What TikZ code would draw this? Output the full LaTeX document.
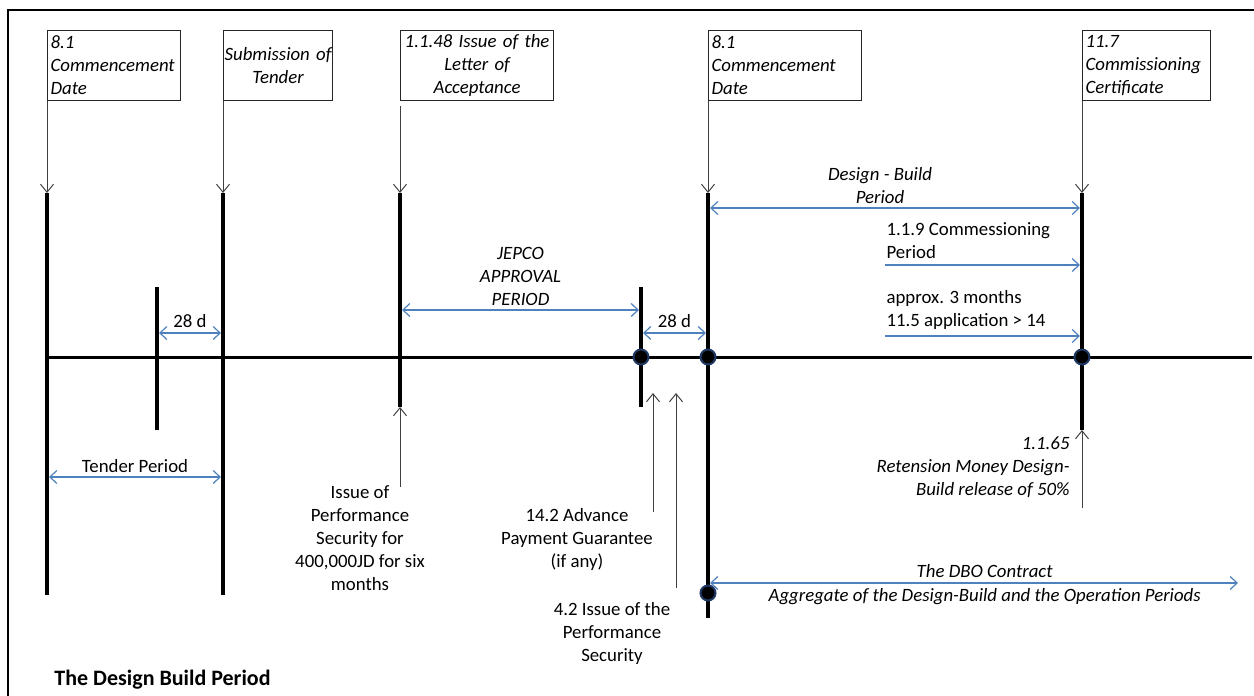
\documentclass[tikz,border=0pt]{standalone}
\usepackage{fontspec}
\setmainfont{Carlito}
\usetikzlibrary{arrows.meta,positioning}

\definecolor{spanblue}{RGB}{79,129,189}
\definecolor{dotrim}{RGB}{31,56,100}

\tikzset{
  datebox/.style={draw=black!85, line width=1.2pt, anchor=north west, minimum height=70pt, inner xsep=3pt, inner ysep=2pt, font=\itshape},
  bar/.style={line width=4pt},
  span/.style={spanblue, text=black, line width=1.2pt, shorten <=2pt, shorten >=2pt, {Straight Barb[length=7pt,width=13pt]}-{Straight Barb[length=7pt,width=13pt]}},
  onespan/.style={spanblue, text=black, line width=1.2pt, shorten >=2pt, -{Straight Barb[length=7pt,width=13pt]}},
  pointer/.style={black!75, text=black, line width=1pt, -{Straight Barb[length=8pt,width=13pt]}},
  dot/.style={circle, fill=black, draw=dotrim, line width=2pt, minimum size=15pt, inner sep=0pt},
}

\begin{document}
\begin{tikzpicture}[x=1pt,y=-1pt]
\fontsize{18.8}{23}\selectfont
\useasboundingbox (0,0) rectangle (1254,696);
\draw[line width=2pt] (8,696) -- (8,10) -- (1254,10);

% date boxes
\node[datebox, text width=127pt, align=left] (cd1) at (47,30) {8.1\\Commencement\\Date};
\node[datebox, text width=109pt, inner xsep=0pt, align=center] (sub) at (223,30) {Submission of\\Tender};
\node[datebox, text width=147pt, align=center] (loa) at (400,30) {1.1.48 Issue of the\\Letter of\\Acceptance};
\node[datebox, text width=147pt, align=left] (cd2) at (708,30) {8.1\\Commencement\\Date};
\node[datebox, text width=122pt, align=left] (cert) at (1082,30) {11.7\\Commissioning\\Certificate};

% time line and bars
\coordinate (axR) at (1252,357);
\foreach \n/\x/\t/\b in {a/47/193/595, b/157/287/430, c/223/193/595, d/400/193/407, e/641/287/407, f/708/193/618, g/1082/193/430}{
  \coordinate (\n1) at (\x,\t);
  \coordinate (\n2) at (\x,\b);
  \draw[bar] (\n1) -- (\n2);
}
\draw[line width=3pt] (a1 |- axR) -- (axR);

\draw[pointer] (cd1.south west) -- (a1);
\draw[pointer] (sub.south west) -- (c1);
\draw[pointer, shorten <=5pt] (loa.south west) -- (d1);
\draw[pointer] (cd2.south west) -- (f1);
\draw[pointer] (cert.south west) -- (g1);

% periods
\draw[span] (b1 |- 0,333) -- node[above=-2pt]{28 d} (c1 |- 0,333);
\draw[span] (a1 |- 0,477) -- node[above=-2pt]{Tender Period} (c1 |- 0,477);
\draw[span] (d1 |- 0,310) -- node[above=-2pt, align=center, font=\itshape]{JEPCO\\APPROVAL\\PERIOD} (e1 |- 0,310);
\draw[span] (e1 |- 0,333) -- node[above=-2pt]{28 d} (f1 |- 0,333);
\draw[span] (f1 |- 0,208) -- node[above=-2pt, pos=0.46, align=center, font=\itshape]{Design - Build\\Period} (g1 |- 0,208);

\coordinate (cp) at (885,265);
\draw[onespan] (cp) node[anchor=south west, align=left, inner xsep=1pt]{1.1.9 Commessioning\\Period} -- (g1 |- cp);
\coordinate (ap) at (885,336);
\draw[onespan] (ap) node[anchor=south west, align=left, inner xsep=1pt]{approx. 3 months\\11.5 application > 14} -- (g1 |- ap);

\coordinate (dboR) at (1240,583);
\draw[span] (f1 |- dboR) -- node[above=-1pt, pos=0.52, font=\itshape]{The DBO Contract} node[below=-1pt, pos=0.52, font=\itshape]{Aggregate of the Design-Build and the Operation Periods} (dboR);

\node[dot] (dE) at (e1 |- axR) {};
\node[dot] (dF) at (f1 |- axR) {};
\node[dot] (dG) at (g1 |- axR) {};
\node[dot] (dDBO) at (708,593) {};

% securities and guarantees
\node[align=center, anchor=north] (perf) at (360,479) {Issue of\\Performance\\Security for\\400,000JD for six\\months};
\coordinate (perfB) at (400,487);
\draw[pointer] (perfB) -- (d2);

\node[align=center, anchor=north] (apg) at (577,502) {14.2 Advance\\Payment Guarantee\\(if any)};
\coordinate (apgB) at (653,512);
\draw[pointer] (apgB) -- (apgB |- 0,393);

\node[align=center, anchor=north] (psec) at (612,596) {4.2 Issue of the\\Performance\\Security};
\coordinate (psecB) at (676,588);
\draw[pointer] (psecB) -- (psecB |- 0,393);

\node[align=right, anchor=north east, font=\itshape] (ret) at (1076,430) {1.1.65\\Retension Money Design-\\Build release of 50\%};
\draw[pointer] (g2 |- 0,508) -- (g2);

\node[anchor=west, font=\fontsize{22}{26}\selectfont\bfseries] (title) at (48,680) {The Design Build Period};
\end{tikzpicture}
\end{document}
